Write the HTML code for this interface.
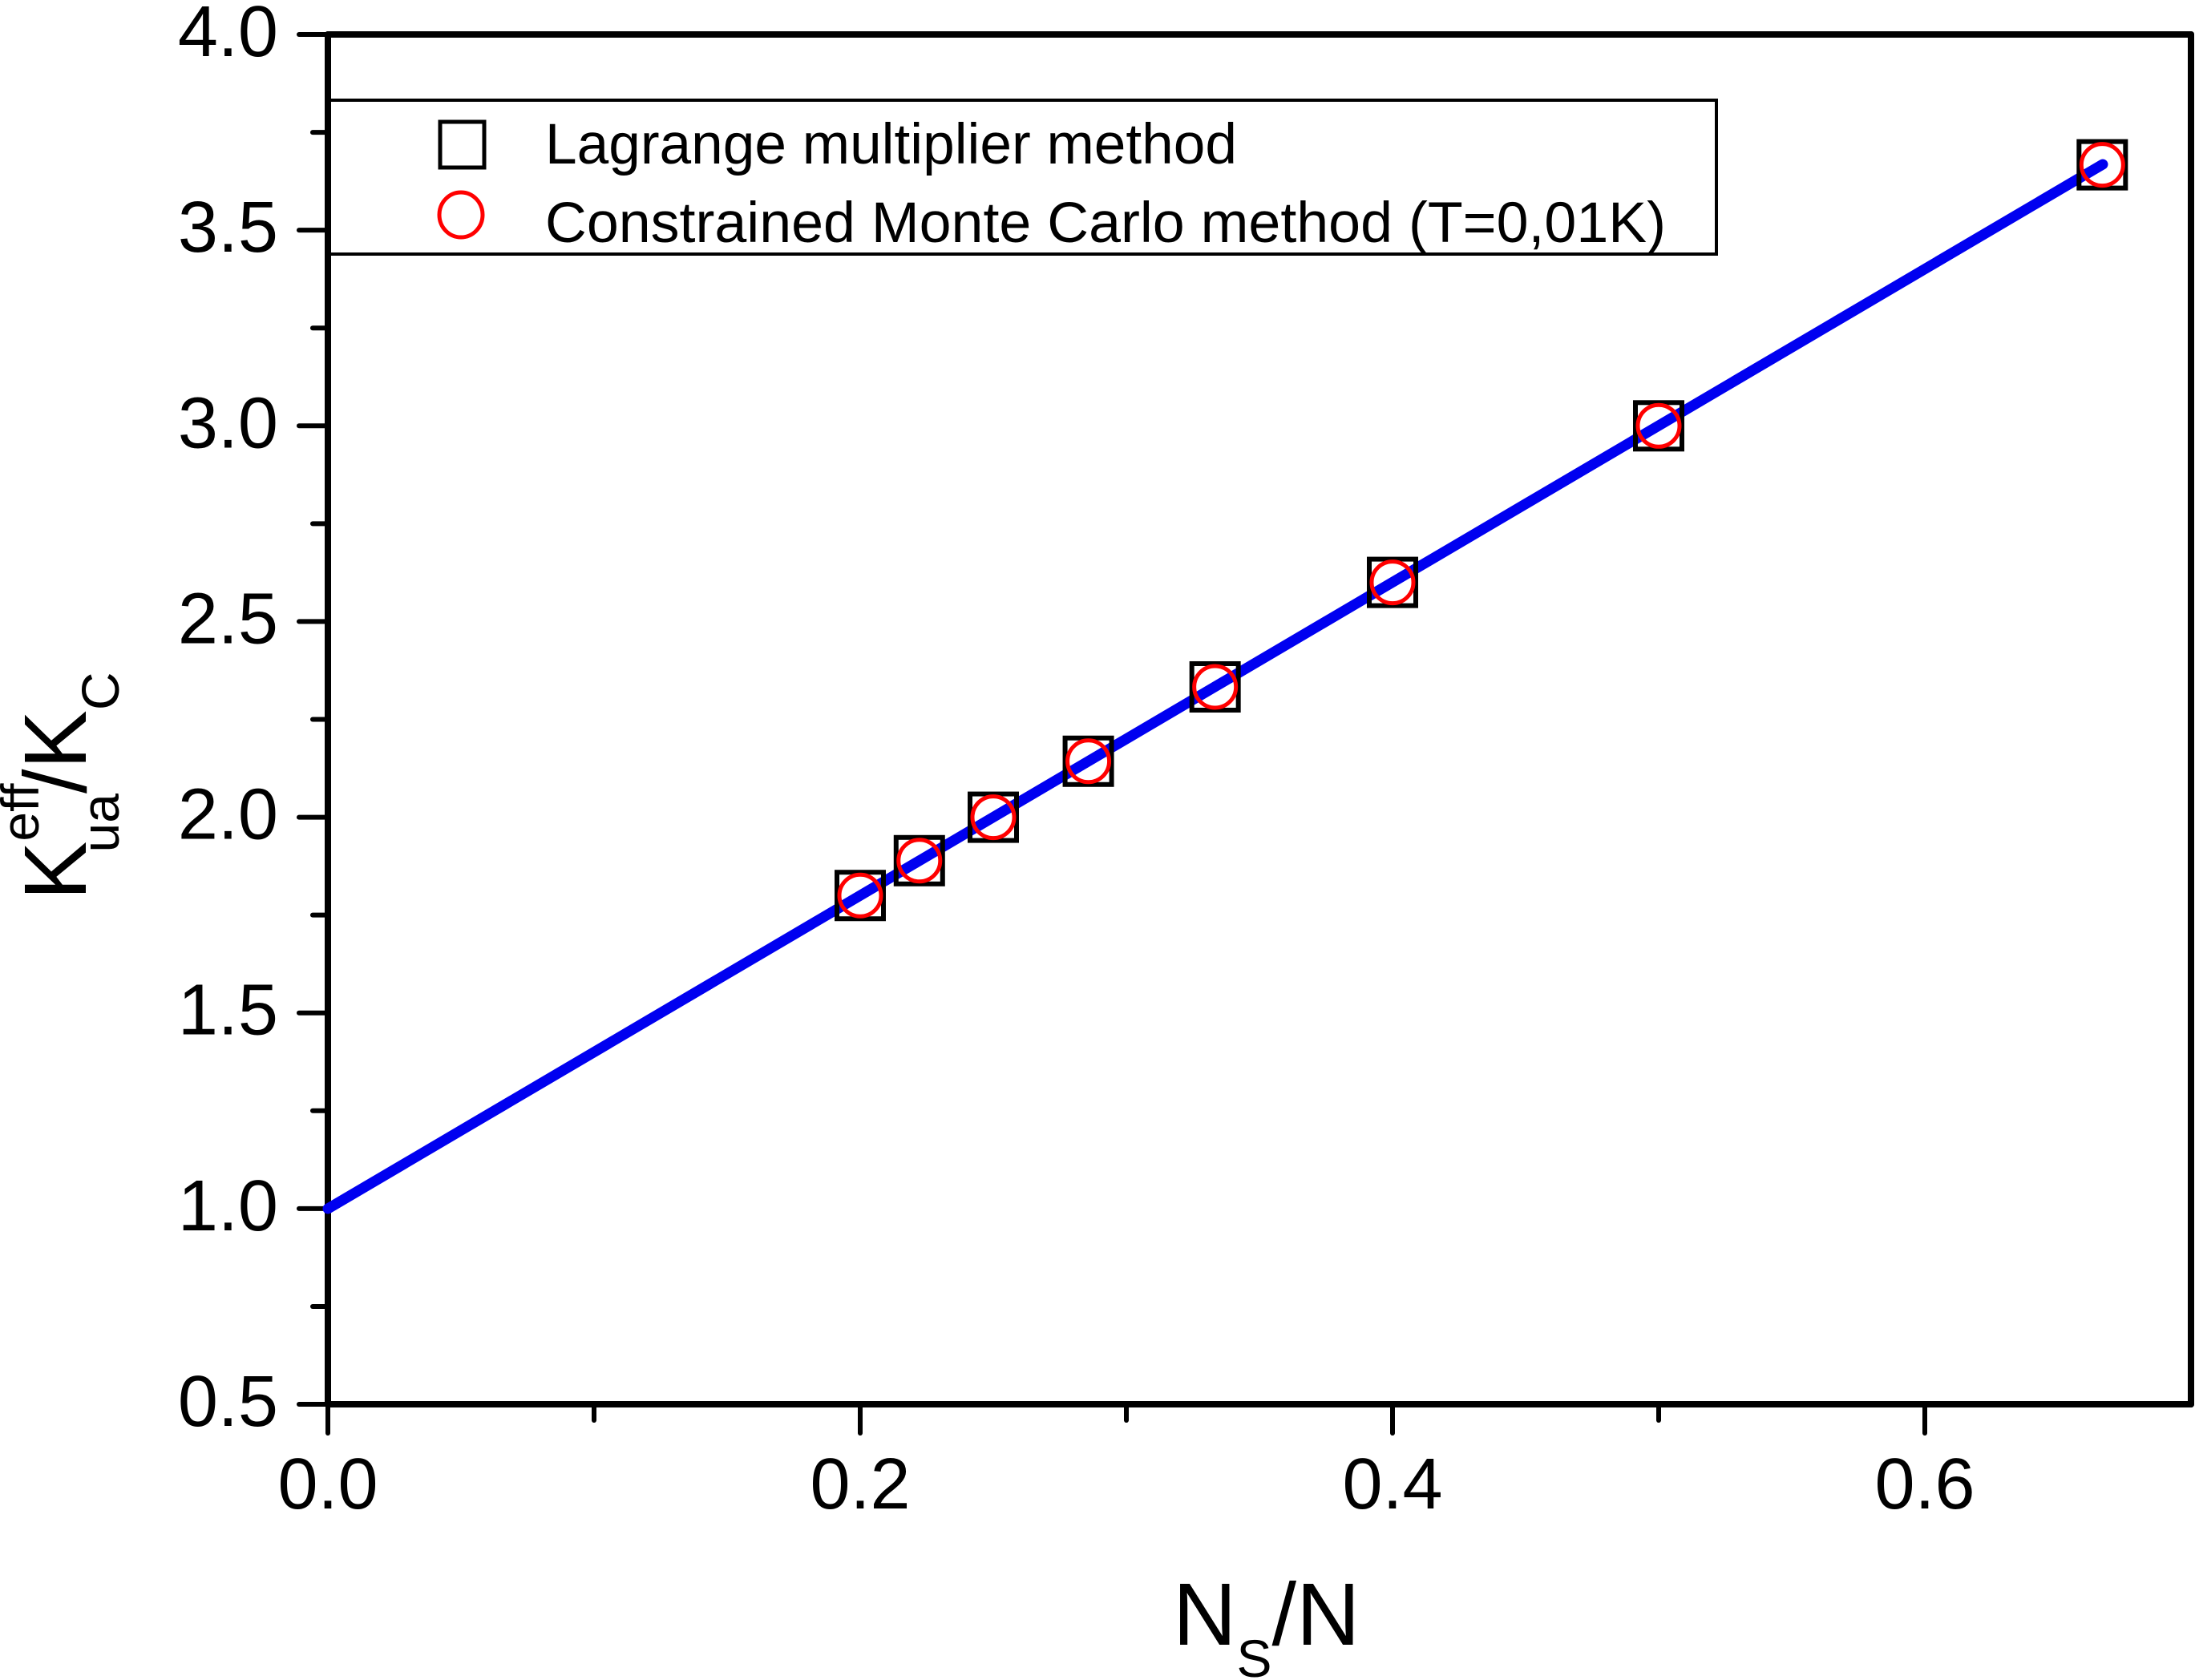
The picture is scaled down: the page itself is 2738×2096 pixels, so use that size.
<!DOCTYPE html>
<html><head><meta charset="utf-8"><style>html,body{margin:0;padding:0;background:#fff}svg{display:block}</style></head>
<body>
<svg width="2738" height="2096" viewBox="0 0 2738 2096" xmlns="http://www.w3.org/2000/svg" font-family="Liberation Sans, Arial, sans-serif">
<rect width="2738" height="2096" fill="#fff"/>
<g stroke="#000" stroke-width="8" stroke-linecap="round">
<line x1="409" y1="1752" x2="409" y2="43"/>
<line x1="409" y1="43" x2="2733" y2="43"/>
<line x1="2733" y1="43" x2="2733" y2="1752"/>
<line x1="409" y1="1752" x2="2733" y2="1752"/>
</g>
<g stroke="#000" stroke-width="6" stroke-linecap="round" id="ticks"></g>
<g font-size="90" text-anchor="end" fill="#000" id="ylab"></g>
<g font-size="90" text-anchor="middle" fill="#000" id="xlab"></g>
<rect x="409" y="125" width="1732" height="192" fill="none" stroke="#000" stroke-width="4"/>
<rect x="549" y="152" width="55" height="57" fill="none" stroke="#000" stroke-width="5"/>
<ellipse cx="575" cy="268" rx="27" ry="28" fill="none" stroke="#f00" stroke-width="5"/>
<text x="680" y="204" font-size="71" textLength="863" lengthAdjust="spacingAndGlyphs">Lagrange multiplier method</text>
<text x="680" y="302" font-size="71" textLength="1398" lengthAdjust="spacingAndGlyphs">Constrained Monte Carlo method (T=0,01K)</text>
<line x1="409" y1="1508" x2="2623" y2="205" stroke="#0000f0" stroke-width="13" stroke-linecap="round"/>
<g id="pts"></g>
<text x="1463" y="2052" font-size="110">N<tspan font-size="66" dy="40">S</tspan><tspan dy="-40">/N</tspan></text>
<text transform="translate(107,1123) rotate(-90)" font-size="110">K<tspan font-size="66" dy="-59">eff</tspan><tspan font-size="66" dx="-86" dy="100">ua</tspan><tspan font-size="110" dy="-41">/K</tspan><tspan font-size="66" dy="41">C</tspan></text>
<script>
var ns="http://www.w3.org/2000/svg";
function X(v){return 409+v*3320}function Y(v){return 43+(4-v)*488.29}
function el(p,t,a,txt){var e=document.createElementNS(ns,t);for(var k in a)e.setAttribute(k,a[k]);if(txt)e.textContent=txt;document.getElementById(p).appendChild(e);return e}
for(var i=0;i<=14;i++){var v=0.5+i*0.25,y=Y(v),maj=(i%2==0);
el("ticks","line",{x1:409,y1:y,x2:maj?373:390,y2:y});
if(maj)el("ylab","text",{x:347,y:y+27},v.toFixed(1));}
for(var i=0;i<=6;i++){var v=i*0.1,x=X(v),maj=(i%2==0);
el("ticks","line",{x1:x,y1:1752,x2:x,y2:maj?1788:1772});
if(maj)el("xlab","text",{x:x,y:1882},v.toFixed(1));}
var d=[[0.2,1.8],[2/9,1.889],[0.25,2.0],[2/7,2.143],[1/3,2.333],[0.4,2.6],[0.5,3.0],[2/3,3.667]];
d.forEach(function(p){var x=X(p[0]),y=Y(p[1]);
el("pts","rect",{x:x-29,y:y-29,width:58,height:58,fill:"none",stroke:"#000","stroke-width":6});
el("pts","circle",{cx:x,cy:y,r:26,fill:"none",stroke:"#f00","stroke-width":5});});
</script>
</svg>
</body></html>
